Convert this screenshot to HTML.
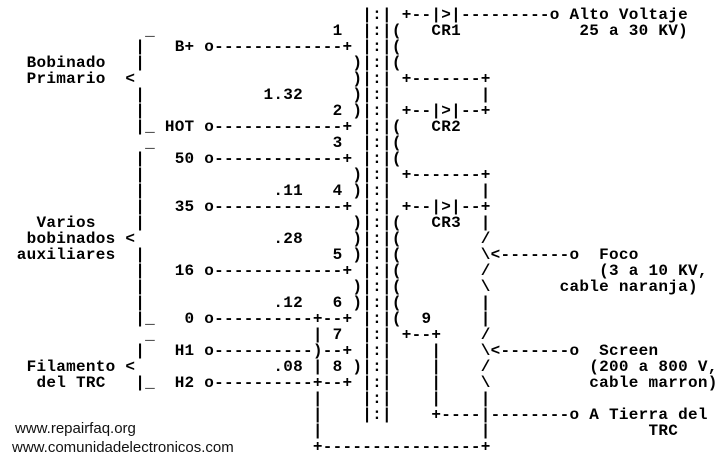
<!DOCTYPE html>
<html><head><meta charset="utf-8"><style>
html,body{margin:0;padding:0;background:#fff;width:721px;height:464px;overflow:hidden;position:relative}
.r{position:absolute;left:-3px;height:16px;line-height:16px;white-space:pre;font-family:"Liberation Mono",monospace;font-weight:bold;font-size:16px;letter-spacing:0.27px;color:#000}
.w{position:absolute;font-family:"Liberation Sans",sans-serif;font-size:15px;color:#111;white-space:pre}
</style></head><body>
<div class="r" style="top:7px">                                     |:| +--|&gt;|---------o Alto Voltaje</div>
<div class="r" style="top:23px">               _                  1  |:|(   CR1            25 a 30 KV)</div>
<div class="r" style="top:39px">              |   B+ o-------------+ |:|(</div>
<div class="r" style="top:55px">   Bobinado   |                     )|:|(</div>
<div class="r" style="top:71px">   Primario  &lt;                      )|:| +-------+</div>
<div class="r" style="top:87px">              |            1.32     )|:|         |</div>
<div class="r" style="top:103px">              |                   2 )|:| +--|&gt;|--+</div>
<div class="r" style="top:119px">              |_ HOT o-------------+ |:|(   CR2</div>
<div class="r" style="top:135px">               _                  3  |:|(</div>
<div class="r" style="top:151px">              |   50 o-------------+ |:|(</div>
<div class="r" style="top:167px">              |                     )|:| +-------+</div>
<div class="r" style="top:183px">              |             .11   4 )|:|         |</div>
<div class="r" style="top:199px">              |   35 o-------------+ |:| +--|&gt;|--+</div>
<div class="r" style="top:215px">    Varios    |                     )|:|(   CR3  |</div>
<div class="r" style="top:231px">   bobinados &lt;              .28     )|:|(        /</div>
<div class="r" style="top:247px">  auxiliares  |                   5 )|:|(        \&lt;-------o  Foco</div>
<div class="r" style="top:263px">              |   16 o-------------+ |:|(        /           (3 a 10 KV,</div>
<div class="r" style="top:279px">              |                     )|:|(        \       cable naranja)</div>
<div class="r" style="top:295px">              |             .12   6 )|:|(        |</div>
<div class="r" style="top:311px">              |_   0 o----------+--+ |:|(  9     |</div>
<div class="r" style="top:327px">               _                | 7  |:| +--+    /</div>
<div class="r" style="top:343px">              |   H1 o----------)--+ |:|    |    \&lt;-------o  Screen</div>
<div class="r" style="top:359px">   Filamento &lt;              .08 | 8 )|:|    |    /          (200 a 800 V,</div>
<div class="r" style="top:375px">    del TRC   |_  H2 o----------+--+ |:|    |    \          cable marron)</div>
<div class="r" style="top:391px">                                |    |:|    |    |</div>
<div class="r" style="top:407px">                                |    |:|    +----|--------o A Tierra del</div>
<div class="r" style="top:423px">                                |                |                TRC</div>
<div class="r" style="top:439px">                                +----------------+</div>
<div class="w" style="left:15px;top:420px">www.repairfaq.org</div>
<div class="w" style="left:12px;top:439px">www.comunidadelectronicos.com</div>
</body></html>
